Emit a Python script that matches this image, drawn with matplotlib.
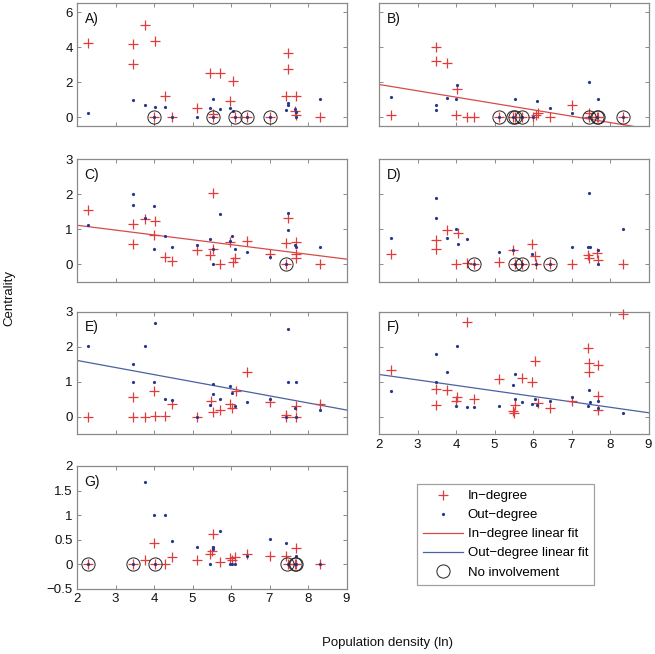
import matplotlib
matplotlib.use("Agg")
import matplotlib.pyplot as plt
from matplotlib.lines import Line2D
import numpy as np

plt.rcParams['font.family'] = ['Liberation Sans', 'DejaVu Sans']

# ---------------- data ----------------
A_in_x = [2.29, 3.46, 3.46, 3.77, 4.03, 4.28, 4.01, 4.48, 5.11, 5.46, 5.71, 5.54, 5.54, 5.97, 6.06, 6.11, 6.42, 7.0, 7.48, 7.48, 7.43, 7.68, 7.65, 7.68, 8.31]
A_in_y = [4.26, 4.15, 3.03, 5.24, 4.37, 1.23, 0.0, 0.0, 0.55, 2.52, 2.55, 0.2, 0.0, 0.95, 2.06, 0.0, 0.0, 0.0, 3.69, 2.78, 1.23, 1.23, 0.38, 0.13, 0.0]
A_out_x = [2.29, 3.46, 3.77, 4.03, 4.28, 4.01, 4.48, 5.11, 5.46, 5.54, 5.54, 5.71, 5.97, 6.06, 6.11, 6.42, 7.0, 7.43, 7.48, 7.48, 7.65, 7.68, 7.68, 8.31]
A_out_y = [0.27, 0.98, 0.70, 0.59, 0.57, 0.0, 0.0, 0.0, 0.51, 1.02, 0.0, 0.45, 0.51, 0.36, 0.0, 0.0, 0.0, 0.42, 0.81, 0.68, 0.49, 0.3, 0.0, 1.02]
A_none_x = [4.01, 5.54, 6.11, 6.42, 7.0]

B_in_x = [2.30, 3.47, 3.47, 3.77, 4.03, 4.01, 4.29, 4.48, 5.11, 5.48, 5.53, 5.71, 6.01, 6.09, 6.13, 6.43, 7.0, 7.46, 7.46, 7.65, 7.70, 8.33]
B_in_y = [0.13, 4.01, 3.2, 3.07, 1.59, 0.13, 0.04, 0.04, 0.0, 0.0, 0.0, 0.0, 0.04, 0.13, 0.23, 0.02, 0.70, 0.23, 0.0, 0.0, 0.0, 0.0]
B_out_x = [2.30, 3.47, 3.47, 3.77, 4.03, 4.01, 5.11, 5.48, 5.53, 5.71, 6.01, 6.11, 6.43, 7.0, 7.46, 7.46, 7.65, 7.68, 8.33]
B_out_y = [1.17, 0.68, 0.42, 1.08, 1.84, 1.02, 0.0, 0.0, 1.02, 0.0, 0.0, 0.91, 0.51, 0.23, 2.03, 0.0, 0.0, 1.02, 0.0]
B_none_x = [5.11, 5.48, 5.53, 5.71, 7.46, 7.65, 7.70, 8.33]

C_in_x = [2.29, 3.46, 3.46, 3.77, 4.03, 4.01, 4.28, 4.48, 5.11, 5.46, 5.54, 5.54, 5.71, 5.97, 6.06, 6.11, 6.42, 7.0, 7.48, 7.43, 7.43, 7.68, 7.68, 7.68, 8.31]
C_in_y = [1.54, 1.14, 0.58, 1.30, 1.23, 0.82, 0.20, 0.08, 0.41, 0.27, 2.03, 0.44, 0.0, 0.64, 0.06, 0.17, 0.66, 0.29, 1.31, 0.59, 0.0, 0.64, 0.30, 0.19, 0.0]
C_out_x = [2.29, 3.46, 3.46, 3.77, 4.01, 4.01, 4.28, 4.48, 5.11, 5.46, 5.54, 5.54, 5.71, 5.97, 6.03, 6.11, 6.42, 7.0, 7.48, 7.48, 7.65, 7.68, 7.43, 8.31]
C_out_y = [1.12, 2.0, 1.69, 1.31, 1.65, 0.42, 0.79, 0.5, 0.54, 0.73, 0.43, 0.0, 1.42, 0.66, 0.81, 0.44, 0.34, 0.21, 1.45, 0.97, 0.54, 0.48, 0.0, 0.5]
C_none_x = [7.43]

D_in_x = [2.30, 3.47, 3.47, 3.77, 4.04, 4.01, 4.28, 4.48, 5.11, 5.48, 5.53, 5.71, 5.97, 6.06, 6.09, 6.43, 7.0, 7.44, 7.46, 7.65, 7.70, 8.33]
D_in_y = [0.29, 0.68, 0.44, 0.97, 0.88, 0.0, 0.03, 0.0, 0.06, 0.40, 0.0, 0.0, 0.58, 0.24, 0.0, 0.0, 0.0, 0.27, 0.17, 0.31, 0.12, 0.0]
D_out_x = [2.30, 3.47, 3.47, 3.77, 4.01, 4.04, 4.29, 4.48, 5.11, 5.48, 5.53, 5.71, 5.97, 6.09, 6.43, 7.0, 7.44, 7.48, 7.46, 7.68, 7.68, 8.33]
D_out_y = [0.75, 1.89, 1.31, 0.75, 1.01, 0.58, 0.73, 0.0, 0.34, 0.40, 0.0, 0.0, 0.29, 0.0, 0.0, 0.5, 0.5, 0.5, 2.03, 0.39, 0.0, 1.01]
D_none_x = [4.48, 5.53, 5.71, 6.43]

E_in_x = [2.29, 3.46, 3.46, 3.77, 4.01, 4.03, 4.28, 4.48, 5.11, 5.49, 5.54, 5.71, 5.97, 6.03, 6.13, 6.42, 7.0, 7.43, 7.43, 7.68, 7.68, 8.31]
E_in_y = [0.0, 0.56, 0.0, 0.0, 0.75, 0.03, 0.03, 0.36, 0.0, 0.45, 0.14, 0.19, 0.36, 0.26, 0.74, 1.28, 0.42, 0.05, 0.0, 0.30, 0.0, 0.36]
E_out_x = [2.29, 3.46, 3.46, 3.77, 4.03, 4.01, 4.28, 4.48, 5.11, 5.46, 5.54, 5.54, 5.71, 5.97, 6.03, 6.11, 6.42, 7.0, 7.48, 7.48, 7.68, 7.43, 7.65, 7.68, 8.31]
E_out_y = [2.02, 1.52, 1.0, 2.02, 2.69, 1.0, 0.52, 0.47, 0.0, 0.35, 0.93, 0.64, 0.51, 0.89, 0.69, 0.32, 0.41, 0.51, 2.52, 1.0, 1.0, 0.0, 0.24, 0.0, 0.19]
E_none_x = []

F_in_x = [2.30, 3.47, 3.47, 3.77, 4.29, 4.03, 4.01, 4.48, 5.11, 5.48, 5.51, 5.53, 5.71, 5.97, 6.06, 6.13, 6.43, 7.0, 7.44, 7.46, 7.46, 7.68, 7.68, 7.68, 8.33]
F_in_y = [1.34, 0.80, 0.33, 0.76, 2.70, 0.56, 0.45, 0.50, 1.09, 0.16, 0.10, 0.35, 1.12, 0.99, 1.60, 0.40, 0.24, 0.45, 1.96, 1.54, 1.29, 1.47, 0.59, 0.19, 2.93]
F_out_x = [2.30, 3.47, 3.47, 3.77, 4.03, 4.01, 4.29, 4.48, 5.11, 5.48, 5.53, 5.53, 5.71, 5.97, 6.06, 6.11, 6.43, 7.0, 7.44, 7.46, 7.48, 7.68, 7.68, 8.33]
F_out_y = [0.74, 1.78, 1.0, 1.29, 2.02, 0.31, 0.28, 0.28, 0.30, 0.91, 1.22, 0.52, 0.42, 0.37, 0.50, 0.35, 0.45, 0.57, 0.31, 0.77, 0.42, 0.46, 0.24, 0.11]
F_none_x = []

G_in_x = [2.29, 3.46, 3.77, 4.01, 4.03, 4.28, 4.48, 5.11, 5.46, 5.51, 5.54, 5.71, 5.97, 6.03, 6.11, 6.42, 7.0, 7.43, 7.48, 7.68, 7.65, 7.68, 8.31]
G_in_y = [0.0, 0.0, 0.09, 0.43, 0.0, 0.0, 0.15, 0.08, 0.21, 0.26, 0.61, 0.05, 0.13, 0.08, 0.15, 0.20, 0.16, 0.16, 0.0, 0.32, 0.0, 0.0, 0.0]
G_out_x = [2.29, 3.46, 4.03, 3.77, 4.01, 4.28, 4.48, 5.11, 5.46, 5.54, 5.54, 5.71, 5.97, 6.03, 6.11, 6.42, 7.0, 7.43, 7.48, 7.68, 7.65, 7.68, 8.31]
G_out_y = [0.0, 0.0, 0.0, 1.67, 1.0, 1.0, 0.47, 0.34, 0.0, 0.34, 0.31, 0.67, 0.0, 0.0, 0.0, 0.16, 0.52, 0.43, 0.0, 0.16, 0.0, 0.0, 0.0]
G_none_x = [2.29, 3.46, 4.03, 7.46, 7.65, 7.68]

panel_labels = ['A)', 'B)', 'C)', 'D)', 'E)', 'F)', 'G)']
ylims = [(-0.5, 6.5), (-0.5, 6.5), (-0.5, 3), (-0.5, 3), (-0.5, 3), (-0.5, 3), (-0.5, 2)]
yticks = [[0, 2, 4, 6], [0, 2, 4, 6], [0, 1, 2, 3], [0, 1, 2, 3], [0, 1, 2, 3], [0, 1, 2, 3],
          [-0.5, 0, 0.5, 1, 1.5, 2]]
xticks = [2, 3, 4, 5, 6, 7, 8, 9]

# linear fits: panel, kind, intercept, slope
fit_panel = ['B', 'C', 'E', 'F']
fit_kind = ['in', 'in', 'out', 'out']
fit_intercept = [2.594, 1.386, 2.014, 1.522]
fit_slope = [-0.362, -0.138, -0.202, -0.156]

legend_labels = ['In\u2212degree', 'Out\u2212degree', 'In\u2212degree linear fit',
                 'Out\u2212degree linear fit', 'No involvement']

# ---------------- styling ----------------
RED = '#e23b3b'
BLUE = '#26398c'
RED_LINE = '#d84a4a'
BLUE_LINE = '#4b61a2'
SPINE = '#8a8a8a'
FS = 9.5

W, H = 655, 654
fig = plt.figure(figsize=(W / 100, H / 100), dpi=100)

col_left = [77, 379]
col_w = 269.5
row_top = [3.3, 159, 311.7, 466]
row_h = 122.7

panels = {
    'A': (A_in_x, A_in_y, A_out_x, A_out_y, A_none_x),
    'B': (B_in_x, B_in_y, B_out_x, B_out_y, B_none_x),
    'C': (C_in_x, C_in_y, C_out_x, C_out_y, C_none_x),
    'D': (D_in_x, D_in_y, D_out_x, D_out_y, D_none_x),
    'E': (E_in_x, E_in_y, E_out_x, E_out_y, E_none_x),
    'F': (F_in_x, F_in_y, F_out_x, F_out_y, F_none_x),
    'G': (G_in_x, G_in_y, G_out_x, G_out_y, G_none_x),
}

for i, key in enumerate('ABCDEFG'):
    r, c = divmod(i, 2)
    left = col_left[c] / W
    bottom = 1 - (row_top[r] + row_h) / H
    ax = fig.add_axes([left, bottom, col_w / W, row_h / H])
    in_x, in_y, out_x, out_y, none_x = panels[key]

    for j, p in enumerate(fit_panel):
        if p == key:
            xs = np.array([2.0, 9.0])
            ys = fit_intercept[j] + fit_slope[j] * xs
            ax.plot(xs, ys, color=RED_LINE if fit_kind[j] == 'in' else BLUE_LINE, lw=0.9, zorder=2)

    ax.plot(in_x, in_y, linestyle='none', marker='+', ms=7, mew=0.9, color=RED, zorder=3,
            clip_on=False)
    ax.plot(out_x, out_y, linestyle='none', marker='o', ms=2.3, mew=0, color=BLUE, zorder=4)
    if len(none_x):
        ax.plot(none_x, [0] * len(none_x), linestyle='none', marker='o', ms=9.5, mfc='none',
                mec='#222222', mew=0.7, zorder=5)

    ax.set_xlim(2, 9)
    ax.set_ylim(*ylims[i])
    ax.set_xticks(xticks)
    ax.set_yticks(yticks[i])
    ax.tick_params(direction='in', length=3, width=0.7, color=SPINE, top=True, right=True,
                   labelsize=FS, labelcolor='#111111', pad=3)
    for s in ax.spines.values():
        s.set_color(SPINE)
        s.set_linewidth(0.9)
    if c == 1:
        ax.set_yticklabels([])
    else:
        ax.set_yticklabels([('%g' % v).replace('-', '\u2212') for v in yticks[i]])
    if key not in ('F', 'G'):
        ax.set_xticklabels([])
    ax.text(0.028, 0.93, panel_labels[i], transform=ax.transAxes, fontsize=FS + 0.5,
            ha='left', va='top', color='#111111')

fig.text(9.5 / W, 1 - 298 / H, 'Centrality', rotation=90, ha='center', va='center', fontsize=FS,
         color='#111111')
fig.text(387 / W, 1 - 643 / H, 'Population density (ln)', ha='center', va='center', fontsize=FS,
         color='#111111')

handles = [
    Line2D([], [], linestyle='none', marker='+', ms=7, mew=0.9, color=RED),
    Line2D([], [], linestyle='none', marker='o', ms=2.3, mew=0, color=BLUE),
    Line2D([], [], color=RED_LINE, lw=0.9),
    Line2D([], [], color=BLUE_LINE, lw=0.9),
    Line2D([], [], linestyle='none', marker='o', ms=9.5, mfc='none', mec='#222222', mew=0.7),
]
leg = fig.legend(handles, legend_labels, loc='upper left',
                 bbox_to_anchor=(417 / W, 1 - 484 / H), fontsize=FS, frameon=True,
                 fancybox=False, edgecolor=SPINE, handlelength=3.0, handletextpad=0.4,
                 labelspacing=0.52, borderpad=0.45, borderaxespad=0, numpoints=1)
leg.get_frame().set_linewidth(0.9)

fig.savefig('out.png', dpi=100)
